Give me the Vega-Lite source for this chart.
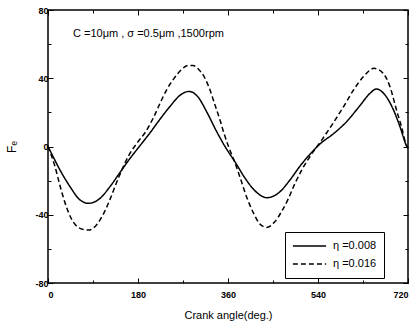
{
  "$schema": "https://vega.github.io/schema/vega-lite/v6.json",
  "autosize": "none",
  "width": 360,
  "height": 273,
  "padding": {"left": 48, "top": 10, "right": 7, "bottom": 45},
  "background": "white",
  "config": {
    "view": {"stroke": "black", "strokeWidth": 1.5},
    "font": "Liberation Sans",
    "axis": {"grid": false, "domain": false, "tickColor": "black", "labelColor": "black", "titleColor": "black"}
  },
  "datasets": {
    "curves": [
      {"angle": 0, "F": 0, "eta": "η =0.008"},
      {"angle": 12, "F": -7, "eta": "η =0.008"},
      {"angle": 24, "F": -13.8, "eta": "η =0.008"},
      {"angle": 44, "F": -23.5, "eta": "η =0.008"},
      {"angle": 64, "F": -31.3, "eta": "η =0.008"},
      {"angle": 81, "F": -33.3, "eta": "η =0.008"},
      {"angle": 104, "F": -30.4, "eta": "η =0.008"},
      {"angle": 124, "F": -23.5, "eta": "η =0.008"},
      {"angle": 144, "F": -15.2, "eta": "η =0.008"},
      {"angle": 164, "F": -7, "eta": "η =0.008"},
      {"angle": 184, "F": 0.5, "eta": "η =0.008"},
      {"angle": 204, "F": 8, "eta": "η =0.008"},
      {"angle": 224, "F": 16, "eta": "η =0.008"},
      {"angle": 244, "F": 23.5, "eta": "η =0.008"},
      {"angle": 264, "F": 30, "eta": "η =0.008"},
      {"angle": 282, "F": 32.3, "eta": "η =0.008"},
      {"angle": 300, "F": 29, "eta": "η =0.008"},
      {"angle": 318, "F": 20, "eta": "η =0.008"},
      {"angle": 336, "F": 9.5, "eta": "η =0.008"},
      {"angle": 354, "F": 0, "eta": "η =0.008"},
      {"angle": 374, "F": -9, "eta": "η =0.008"},
      {"angle": 394, "F": -18.5, "eta": "η =0.008"},
      {"angle": 414, "F": -26, "eta": "η =0.008"},
      {"angle": 438, "F": -30, "eta": "η =0.008"},
      {"angle": 462, "F": -27, "eta": "η =0.008"},
      {"angle": 484, "F": -19.6, "eta": "η =0.008"},
      {"angle": 504, "F": -11.5, "eta": "η =0.008"},
      {"angle": 524, "F": -4.5, "eta": "η =0.008"},
      {"angle": 544, "F": 1.5, "eta": "η =0.008"},
      {"angle": 571, "F": 7.5, "eta": "η =0.008"},
      {"angle": 597, "F": 14.5, "eta": "η =0.008"},
      {"angle": 624, "F": 24, "eta": "η =0.008"},
      {"angle": 644, "F": 31.2, "eta": "η =0.008"},
      {"angle": 657, "F": 33.7, "eta": "η =0.008"},
      {"angle": 674, "F": 30.2, "eta": "η =0.008"},
      {"angle": 691, "F": 21.4, "eta": "η =0.008"},
      {"angle": 704, "F": 11.6, "eta": "η =0.008"},
      {"angle": 717, "F": 0.5, "eta": "η =0.008"},
      {"angle": 720, "F": -1, "eta": "η =0.008"},
      {"angle": 0, "F": 0, "eta": "η =0.016"},
      {"angle": 14, "F": -11.8, "eta": "η =0.016"},
      {"angle": 24, "F": -23, "eta": "η =0.016"},
      {"angle": 34, "F": -33, "eta": "η =0.016"},
      {"angle": 47, "F": -42.5, "eta": "η =0.016"},
      {"angle": 64, "F": -48, "eta": "η =0.016"},
      {"angle": 81, "F": -49, "eta": "η =0.016"},
      {"angle": 97, "F": -46, "eta": "η =0.016"},
      {"angle": 110, "F": -40, "eta": "η =0.016"},
      {"angle": 124, "F": -31, "eta": "η =0.016"},
      {"angle": 136, "F": -22, "eta": "η =0.016"},
      {"angle": 148, "F": -13.5, "eta": "η =0.016"},
      {"angle": 162, "F": -5, "eta": "η =0.016"},
      {"angle": 178, "F": 2, "eta": "η =0.016"},
      {"angle": 195, "F": 8.5, "eta": "η =0.016"},
      {"angle": 211, "F": 17, "eta": "η =0.016"},
      {"angle": 224, "F": 25.3, "eta": "η =0.016"},
      {"angle": 237, "F": 33.1, "eta": "η =0.016"},
      {"angle": 251, "F": 39.5, "eta": "η =0.016"},
      {"angle": 265, "F": 44.5, "eta": "η =0.016"},
      {"angle": 280, "F": 47.5, "eta": "η =0.016"},
      {"angle": 290, "F": 47.5, "eta": "η =0.016"},
      {"angle": 301, "F": 45.3, "eta": "η =0.016"},
      {"angle": 314, "F": 40, "eta": "η =0.016"},
      {"angle": 324, "F": 33.1, "eta": "η =0.016"},
      {"angle": 334, "F": 24.3, "eta": "η =0.016"},
      {"angle": 344, "F": 15.5, "eta": "η =0.016"},
      {"angle": 352, "F": 7.7, "eta": "η =0.016"},
      {"angle": 361, "F": 0, "eta": "η =0.016"},
      {"angle": 372, "F": -8, "eta": "η =0.016"},
      {"angle": 384, "F": -18, "eta": "η =0.016"},
      {"angle": 397, "F": -29.4, "eta": "η =0.016"},
      {"angle": 411, "F": -39, "eta": "η =0.016"},
      {"angle": 424, "F": -45.5, "eta": "η =0.016"},
      {"angle": 437, "F": -47.4, "eta": "η =0.016"},
      {"angle": 454, "F": -44, "eta": "η =0.016"},
      {"angle": 467, "F": -38.2, "eta": "η =0.016"},
      {"angle": 481, "F": -30.4, "eta": "η =0.016"},
      {"angle": 494, "F": -21.6, "eta": "η =0.016"},
      {"angle": 508, "F": -13.5, "eta": "η =0.016"},
      {"angle": 526, "F": -5, "eta": "η =0.016"},
      {"angle": 548, "F": 4, "eta": "η =0.016"},
      {"angle": 570, "F": 13.6, "eta": "η =0.016"},
      {"angle": 591, "F": 23.3, "eta": "η =0.016"},
      {"angle": 611, "F": 33.1, "eta": "η =0.016"},
      {"angle": 631, "F": 41, "eta": "η =0.016"},
      {"angle": 652, "F": 45.8, "eta": "η =0.016"},
      {"angle": 670, "F": 43, "eta": "η =0.016"},
      {"angle": 684, "F": 35, "eta": "η =0.016"},
      {"angle": 697, "F": 21.4, "eta": "η =0.016"},
      {"angle": 707, "F": 11.6, "eta": "η =0.016"},
      {"angle": 717, "F": 0.5, "eta": "η =0.016"},
      {"angle": 720, "F": -1, "eta": "η =0.016"}
    ],
    "note": [{"label": "C =10μm , σ =0.5μm ,1500rpm"}]
  },
  "resolve": {"axis": {"x": "independent", "y": "independent"}},
  "layer": [
    {
      "data": {"name": "curves"},
      "mark": {"type": "line", "interpolate": "monotone", "color": "black", "strokeWidth": 1.5},
      "encoding": {
        "x": {
          "field": "angle", "type": "quantitative",
          "scale": {"domain": [0, 720], "nice": false},
          "axis": {
            "orient": "bottom",
            "values": [0, 90, 180, 270, 360, 450, 540, 630, 720],
            "labelExpr": "datum.value % 180 === 0 ? '' + datum.value : ''",
            "tickSize": {"condition": {"test": "datum.value % 180 === 0", "value": -5}, "value": -3},
            "tickWidth": 1,
            "labelPadding": 12,
            "labelFontSize": 9,
            "labelFontWeight": "bold",
            "title": "Crank angle(deg.)",
            "titleFontSize": 11,
            "titleFontWeight": "normal",
            "titlePadding": 10
          }
        },
        "y": {
          "field": "F", "type": "quantitative",
          "scale": {"domain": [-80, 80], "nice": false},
          "axis": {
            "orient": "left",
            "values": [-80, -60, -40, -20, 0, 20, 40, 60, 80],
            "labelExpr": "datum.value % 40 === 0 ? '' + datum.value : ''",
            "tickSize": {"condition": {"test": "datum.value % 40 === 0", "value": -5}, "value": -3},
            "tickWidth": 1,
            "labelPadding": 5,
            "labelFontSize": 9,
            "labelFontWeight": "bold",
            "title": "Fₑ",
            "titleFontSize": 12,
            "titleFontWeight": "normal",
            "titlePadding": 16
          }
        },
        "strokeDash": {
          "field": "eta", "type": "nominal",
          "scale": {"domain": ["η =0.008", "η =0.016"], "range": [[1, 0], [5, 3]]},
          "legend": {
            "title": null,
            "orient": "none",
            "legendX": 237,
            "legendY": 222,
            "strokeColor": "black",
            "padding": 7,
            "symbolType": "stroke",
            "symbolSize": 1100,
            "clipHeight": 14,
            "symbolStrokeColor": "black",
            "symbolStrokeWidth": 1.5,
            "labelFontSize": 11,
            "labelColor": "black",
            "labelOffset": 6,
            "rowPadding": 4
          }
        }
      }
    },
    {
      "data": {"name": "curves"},
      "mark": {"type": "line", "opacity": 0},
      "encoding": {
        "x": {
          "field": "angle", "type": "quantitative",
          "axis": {
            "orient": "top",
            "values": [0, 90, 180, 270, 360, 450, 540, 630, 720],
            "labels": false,
            "tickSize": {"condition": {"test": "datum.value % 180 === 0", "value": -5}, "value": -3},
            "title": null
          }
        },
        "y": {
          "field": "F", "type": "quantitative",
          "axis": {
            "orient": "right",
            "values": [-80, -60, -40, -20, 0, 20, 40, 60, 80],
            "labels": false,
            "tickSize": {"condition": {"test": "datum.value % 40 === 0", "value": -5}, "value": -3},
            "title": null
          }
        }
      }
    },
    {
      "data": {"name": "note"},
      "mark": {"type": "text", "align": "left", "baseline": "alphabetic", "fontSize": 11, "font": "Liberation Sans", "color": "black"},
      "encoding": {
        "x": {"datum": 50, "type": "quantitative", "axis": null},
        "y": {"datum": 64, "type": "quantitative", "axis": null},
        "text": {"field": "label"}
      }
    }
  ]
}
